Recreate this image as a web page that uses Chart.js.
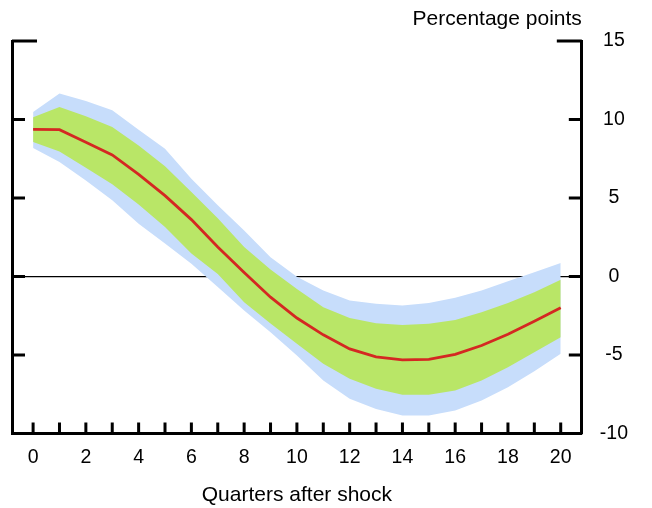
<!DOCTYPE html>
<html>
<head>
<meta charset="utf-8">
<script src="https://cdn.jsdelivr.net/npm/chart.js@4"></script>
<style>
  body { margin: 0; background: #fff; }
  #wrap { width: 652px; height: 508px; }
</style>
</head>
<body>
<div id="wrap"><canvas id="canvas"></canvas></div>
<script>
// impulse response, quarters after shock
var quarters = [0, 1, 2, 3, 4, 5, 6, 7, 8, 9, 10, 11, 12, 13, 14, 15, 16, 17, 18, 19, 20];
var estimate   = [9.37, 9.35, 8.55, 7.74, 6.5, 5.15, 3.62, 1.87, 0.25, -1.32, -2.65, -3.72, -4.62, -5.12, -5.32, -5.28, -4.97, -4.4, -3.68, -2.85, -2.0];
var innerUpper = [10.14, 10.8, 10.2, 9.52, 8.35, 7.02, 5.38, 3.7, 1.87, 0.45, -0.8, -1.96, -2.64, -2.98, -3.1, -3.02, -2.77, -2.28, -1.7, -1.0, -0.21];
var innerLower = [8.57, 7.96, 6.93, 5.88, 4.58, 3.15, 1.46, 0.15, -1.64, -3.0, -4.29, -5.57, -6.52, -7.16, -7.53, -7.53, -7.27, -6.63, -5.78, -4.83, -3.87];
var outerUpper = [10.48, 11.65, 11.18, 10.59, 9.35, 8.14, 6.23, 4.53, 2.93, 1.23, -0.02, -0.89, -1.53, -1.74, -1.85, -1.7, -1.36, -0.89, -0.3, 0.27, 0.85];
var outerLower = [8.18, 7.29, 6.12, 4.85, 3.36, 2.1, 0.81, -0.68, -2.17, -3.55, -5.04, -6.63, -7.8, -8.44, -8.86, -8.86, -8.54, -7.91, -7.06, -6.04, -4.93];

var xTickLabels = [0, 2, 4, 6, 8, 10, 12, 14, 16, 18, 20];
var yTickValues = [15, 10, 5, 0, -5, -10];
var unitLabel = 'Percentage points';
var xTitle = 'Quarters after shock';

var FONT = '"Liberation Sans", Arial, sans-serif';
var red = 'rgb(212, 40, 34)';
var green = 'rgb(185, 230, 103)';
var blue = 'rgb(199, 221, 251)';

function pts(vals) {
    return vals.map(function (v, i) { return { x: quarters[i], y: v }; });
}

function band(vals, color, fill) {
    return {
        data: pts(vals),
        borderWidth: 0,
        borderColor: 'rgba(0,0,0,0)',
        backgroundColor: color,
        pointRadius: 0,
        tension: 0,
        fill: fill
    };
}

// inward tick marks + unit label at the top right
var axisDecor = {
    id: 'axisDecor',
    afterDraw: function (chart) {
        var ctx = chart.ctx, a = chart.chartArea, x = chart.scales.x, y = chart.scales.y;
        ctx.save();
        ctx.strokeStyle = '#000';
        ctx.lineWidth = 3;
        ctx.beginPath();
        yTickValues.forEach(function (v) {
            var py = y.getPixelForValue(v);
            var len = v === 15 ? 25 : 13;
            ctx.moveTo(a.left, py); ctx.lineTo(a.left + len, py);
            ctx.moveTo(a.right, py); ctx.lineTo(a.right - len, py);
        });
        quarters.forEach(function (q) {
            var px = x.getPixelForValue(q);
            ctx.moveTo(px, a.bottom); ctx.lineTo(px, a.bottom - 11);
        });
        ctx.stroke();
        ctx.fillStyle = '#000';
        ctx.font = '21px ' + FONT;
        ctx.textAlign = 'right';
        ctx.textBaseline = 'alphabetic';
        ctx.fillText(unitLabel, a.right, 25);
        ctx.restore();
    }
};

var config = {
    type: 'line',
    data: {
        datasets: [
            { data: pts(estimate), borderColor: red, borderWidth: 2.8, pointRadius: 0, tension: 0, fill: false },
            band(innerUpper, green, '+1'),
            band(innerLower, green, false),
            band(outerUpper, blue, '+1'),
            band(outerLower, blue, false)
        ]
    },
    options: {
        responsive: true,
        maintainAspectRatio: false,
        animation: false,
        layout: { padding: { top: 41, left: 12, right: 6, bottom: 0 } },
        plugins: {
            legend: { display: false },
            tooltip: { enabled: false }
        },
        scales: {
            x: {
                type: 'linear',
                position: 'bottom',
                min: -0.8,
                max: 20.8,
                afterBuildTicks: function (s) {
                    s.ticks = xTickLabels.map(function (v) { return { value: v }; });
                },
                grid: { drawOnChartArea: false, drawTicks: false },
                border: { display: true, color: '#000', width: 3 },
                ticks: { color: '#000', font: { family: FONT, size: 19.5 }, padding: 13, maxRotation: 0 },
                title: { display: true, text: xTitle, color: '#000', font: { family: FONT, size: 21 }, padding: { top: 0, bottom: 0 } }
            },
            y: {
                type: 'linear',
                position: 'right',
                min: -10,
                max: 15,
                afterBuildTicks: function (s) {
                    s.ticks = yTickValues.map(function (v) { return { value: v }; });
                },
                grid: {
                    drawTicks: false,
                    lineWidth: 1.2,
                    color: function (c) { return c.tick && c.tick.value === 0 ? '#000' : 'rgba(0,0,0,0)'; }
                },
                border: { display: true, color: '#000', width: 3 },
                ticks: { color: '#000', font: { family: FONT, size: 19.5 }, padding: 18, crossAlign: 'center' }
            },
            yL: {
                type: 'linear',
                position: 'left',
                min: -10,
                max: 15,
                grid: { drawOnChartArea: false, drawTicks: false },
                border: { display: true, color: '#000', width: 3 },
                ticks: { display: false }
            }
        }
    },
    plugins: [axisDecor]
};

function start() {
    var ctx = document.getElementById('canvas').getContext('2d');
    new Chart(ctx, config);
}
start();
</script>
</body>
</html>
